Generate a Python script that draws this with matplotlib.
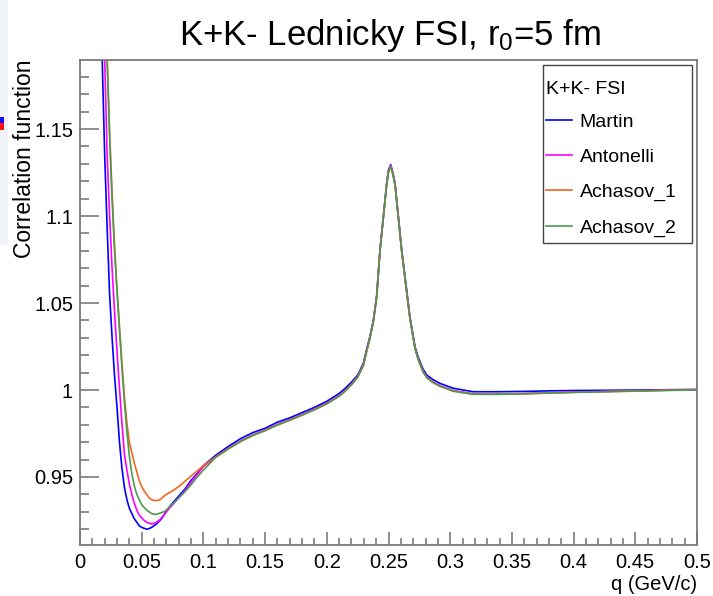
import matplotlib
matplotlib.use('Agg')
import matplotlib.pyplot as plt
from matplotlib.ticker import MultipleLocator, FuncFormatter
from matplotlib.patches import Rectangle

plt.rcParams['font.family'] = ['Liberation Sans', 'DejaVu Sans']
plt.rcParams['mathtext.fontset'] = 'custom'
plt.rcParams['mathtext.rm'] = 'Liberation Sans'
plt.rcParams['mathtext.it'] = 'Liberation Sans:italic'
plt.rcParams['mathtext.default'] = 'regular'

# ---------------- data ----------------
q_low = [0.012, 0.015, 0.018, 0.020, 0.022, 0.024, 0.026, 0.028, 0.030, 0.032,
         0.034, 0.036, 0.038, 0.040, 0.042, 0.044, 0.046, 0.048, 0.050, 0.052,
         0.054, 0.056, 0.058, 0.060, 0.062, 0.064, 0.066, 0.068, 0.070, 0.075,
         0.080, 0.085, 0.090, 0.095, 0.100]

martin_low = [1.40, 1.28, 1.19, 1.135, 1.093, 1.055, 1.030, 1.008, 0.990, 0.970,
              0.955, 0.944, 0.937, 0.932, 0.929, 0.926, 0.924, 0.922, 0.921, 0.9205,
              0.920, 0.9203, 0.921, 0.922, 0.923, 0.9245, 0.926, 0.928, 0.9305, 0.935,
              0.939, 0.943, 0.948, 0.952, 0.9565]

antonelli_low = [1.50, 1.36, 1.24, 1.19, 1.135, 1.100, 1.070, 1.045, 1.022, 1.001,
                 0.981, 0.963, 0.954, 0.946, 0.940, 0.935, 0.931, 0.928, 0.9265, 0.925,
                 0.924, 0.9235, 0.923, 0.9233, 0.924, 0.925, 0.9265, 0.928, 0.930, 0.934,
                 0.938, 0.942, 0.947, 0.9515, 0.956]

achasov1_low = [1.55, 1.41, 1.29, 1.23, 1.19, 1.148, 1.113, 1.083, 1.058, 1.036,
                1.015, 0.996, 0.981, 0.970, 0.964, 0.958, 0.953, 0.948, 0.9445, 0.942,
                0.940, 0.938, 0.937, 0.9365, 0.9365, 0.9367, 0.9375, 0.939, 0.940, 0.942,
                0.9445, 0.9475, 0.9505, 0.9535, 0.9565]

achasov2_low = [1.55, 1.40, 1.28, 1.225, 1.19, 1.145, 1.110, 1.080, 1.057, 1.035,
                1.013, 0.993, 0.976, 0.962, 0.952, 0.945, 0.940, 0.937, 0.934, 0.9325,
                0.931, 0.930, 0.929, 0.9286, 0.9286, 0.929, 0.9295, 0.930, 0.931, 0.9345,
                0.938, 0.9415, 0.9455, 0.950, 0.954]

q_high = [0.110, 0.120, 0.130, 0.140, 0.150, 0.160, 0.170, 0.180, 0.190, 0.200,
          0.210, 0.215, 0.220, 0.225, 0.2296, 0.2323, 0.2350, 0.2377, 0.2404, 0.2431,
          0.2458, 0.2485, 0.2500, 0.2518, 0.2535, 0.2553, 0.2580, 0.2607, 0.2647, 0.2674,
          0.2715, 0.2740, 0.2780, 0.2810, 0.2860, 0.2917, 0.3025, 0.3187, 0.340, 0.360,
          0.380, 0.400, 0.420, 0.440, 0.460, 0.480, 0.500]

martin_high = [0.9625, 0.9675, 0.972, 0.9755, 0.978, 0.9815, 0.984, 0.987, 0.990, 0.9935,
               0.998, 1.001, 1.0045, 1.0085, 1.0153, 1.0235, 1.031, 1.040, 1.0540, 1.0805,
               1.0996, 1.1188, 1.1265, 1.1295, 1.125, 1.1188, 1.0996, 1.0805, 1.0575, 1.042,
               1.0249, 1.019, 1.012, 1.0086, 1.006, 1.0038, 1.001, 0.999, 0.999, 0.9992,
               0.9995, 0.9997, 0.9998, 0.9999, 1.0, 1.0002, 1.0003]

antonelli_high = [0.9617, 0.9664, 0.9707, 0.9742, 0.9770, 0.9802, 0.9830, 0.9859, 0.9890, 0.9924,
                  0.9968, 0.9998, 1.0034, 1.0077, 1.0144, 1.0226, 1.0302, 1.0394, 1.0535, 1.0802,
                  1.0992, 1.1183, 1.1260, 1.1290, 1.1246, 1.1183, 1.0992, 1.0800, 1.0567, 1.0412,
                  1.0240, 1.0180, 1.0108, 1.0074, 1.0047, 1.0025, 0.9997, 0.9978, 0.9977, 0.9980,
                  0.9984, 0.9988, 0.9991, 0.9994, 0.9997, 1.0000, 1.0002]

achasov1_high = [0.9615, 0.9662, 0.9705, 0.9740, 0.9768, 0.9800, 0.9828, 0.9857, 0.9888, 0.9922,
                 0.9966, 0.9996, 1.0032, 1.0075, 1.0142, 1.0224, 1.0300, 1.0392, 1.0533, 1.0800,
                 1.0990, 1.1180, 1.1255, 1.1285, 1.1242, 1.1180, 1.0990, 1.0798, 1.0565, 1.0410,
                 1.0238, 1.0178, 1.0106, 1.0072, 1.0045, 1.0023, 0.9995, 0.9976, 0.9976, 0.9979,
                 0.9983, 0.9987, 0.9990, 0.9993, 0.9996, 0.9999, 1.0001]

achasov2_high = [0.9613, 0.9660, 0.9703, 0.9738, 0.9766, 0.9798, 0.9826, 0.9855, 0.9886, 0.9920,
                 0.9964, 0.9994, 1.0030, 1.0073, 1.0140, 1.0222, 1.0298, 1.0390, 1.0531, 1.0798,
                 1.0988, 1.1178, 1.1253, 1.1283, 1.1240, 1.1178, 1.0988, 1.0796, 1.0563, 1.0408,
                 1.0236, 1.0176, 1.0104, 1.0070, 1.0043, 1.0021, 0.9993, 0.9975, 0.9975, 0.9978,
                 0.9982, 0.9986, 0.9989, 0.9992, 0.9995, 0.9998, 1.0000]

series_names = ['Martin', 'Antonelli', 'Achasov_1', 'Achasov_2']
series_low = [martin_low, antonelli_low, achasov1_low, achasov2_low]
series_high = [martin_high, antonelli_high, achasov1_high, achasov2_high]
series_colors = ['#0000ff', '#ff00ff', '#f4661b', '#4c9a50']

title_text = r'K+K- Lednicky FSI, r$_0$=5 fm'
legend_title = 'K+K- FSI'
xlabel_text = 'q (GeV/c)'
ylabel_text = 'Correlation function'

# ---------------- figure ----------------
W, H = 713, 596
fig = plt.figure(figsize=(W / 100, H / 100), dpi=100)
fig.patch.set_facecolor('white')

# screenshot artefacts at the left border
fig.patches.append(Rectangle((0, 1 - 245 / H), 8 / W, 245 / H, transform=fig.transFigure,
                             facecolor='#f1f3f8', edgecolor='none', zorder=0))
fig.patches.append(Rectangle((0, 1 - 123 / H), 4 / W, 6 / H, transform=fig.transFigure,
                             facecolor='#1010ff', edgecolor='none'))
fig.patches.append(Rectangle((0, 1 - 130 / H), 4 / W, 7 / H, transform=fig.transFigure,
                             facecolor='#ff1010', edgecolor='none'))

ax = fig.add_axes([80 / W, 51 / H, 617 / W, 485 / H])

for name, lo, hi, col in zip(series_names, series_low, series_high, series_colors):
    ax.plot(q_low + q_high, lo + hi, color=col, lw=1.2, label=name)

ax.set_xlim(0, 0.5)
ax.set_ylim(0.9109, 1.1897)

fmt = FuncFormatter(lambda v, p: '%g' % round(v, 4))
ax.xaxis.set_major_locator(MultipleLocator(0.05))
ax.xaxis.set_minor_locator(MultipleLocator(0.01))
ax.yaxis.set_major_locator(MultipleLocator(0.05))
ax.yaxis.set_minor_locator(MultipleLocator(0.01))
ax.xaxis.set_major_formatter(fmt)
ax.yaxis.set_major_formatter(fmt)

for s in ax.spines.values():
    s.set_color('#7a7a7a')
    s.set_linewidth(1.3)

ax.tick_params(which='both', direction='in', top=False, right=False,
               colors='#7a7a7a', labelcolor='black', width=1.2)
ax.tick_params(axis='x', which='major', length=9.5, labelsize=14.5, pad=6)
ax.tick_params(axis='x', which='minor', length=5)
ax.tick_params(axis='y', which='major', length=13.5, labelsize=14.5, pad=5)
ax.tick_params(axis='y', which='minor', length=6.5)

fig.text(390 / W, 1 - 45 / H, title_text, ha='center', va='baseline', fontsize=25)
fig.text(25 / W, 1 - 60 / H, ylabel_text, rotation=90, ha='center', va='top', fontsize=16.5)
fig.text(697 / W, 1 - 590 / H, xlabel_text, ha='right', va='baseline', fontsize=14.5)

# legend frame (ROOT TLegend style box), drawn inside the axes under the legend
ax.add_patch(Rectangle((543 / W, 1 - 243 / H), 149 / W, 178 / H, transform=fig.transFigure,
                       facecolor='white', edgecolor='#444444', linewidth=1.0, zorder=4,
                       clip_on=False))

leg = ax.legend(title=legend_title, loc='upper left', bbox_to_anchor=(546 / W, 1 - 81 / H),
                bbox_transform=fig.transFigure, frameon=False,
                fontsize=14, title_fontsize=14, alignment='left',
                handlelength=1.35, handletextpad=0.38, labelspacing=0.9, borderpad=0.0,
                borderaxespad=0)
leg._legend_box.sep = 11
leg.set_zorder(6)

fig.savefig('out.png', dpi=100, facecolor='white')
